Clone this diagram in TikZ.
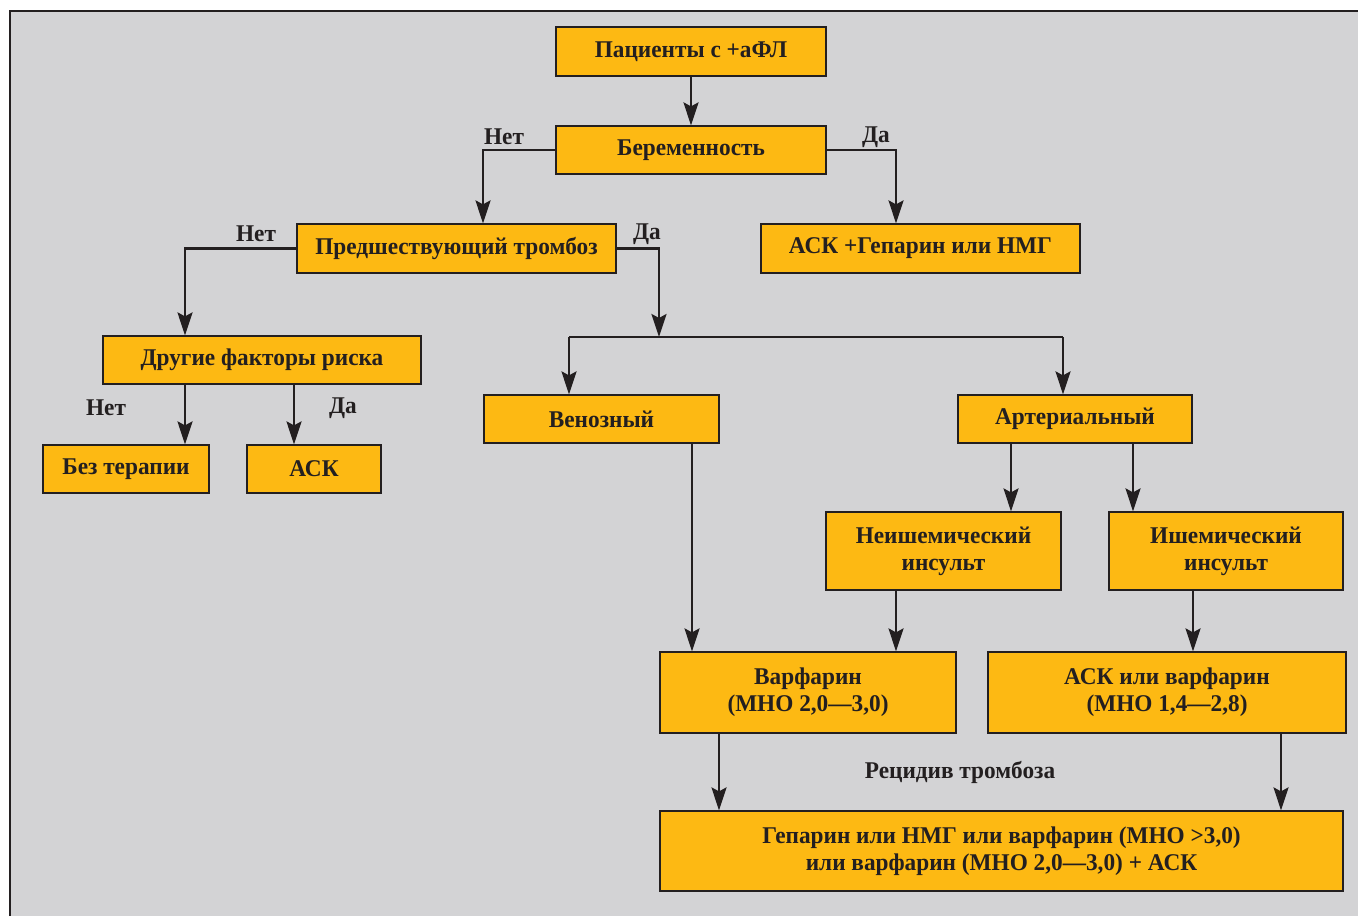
\documentclass[tikz,border=0pt]{standalone}
\usepackage{fontspec}
\setmainfont{Liberation Serif}
\newfontfamily\boxFont[FakeStretch=0.97, Ligatures=TeX]{Liberation Serif}
\usetikzlibrary{arrows.meta}
\definecolor{panelCol}{RGB}{211, 211, 213}
\definecolor{boxCol}{RGB}{253, 185, 19}
\definecolor{inkCol}{RGB}{35, 31, 32}
\tikzset{myBox/.style={draw=inkCol, line width=0.6pt, fill=boxCol, text=inkCol, align=center, inner sep=0pt, font=\boxFont\bfseries\fontsize{12}{13.5}\selectfont}}
\tikzset{myArrow/.style={draw=inkCol, line width=1.25pt, -{Stealth[length=11.5pt, width=7.5pt, inset=2pt]}}}
\tikzset{myLine/.style={draw=inkCol, line width=1.25pt}}
\tikzset{myLabel/.style={text=inkCol, inner sep=0pt, font=\boxFont\bfseries\fontsize{12}{13.5}\selectfont}}

\begin{document}
\begin{tikzpicture}[x=0.5pt, y=-0.5pt]
	\useasboundingbox (0,0) rectangle (1358,916);
	\fill[panelCol](10,11) rectangle (1358,916);
	\draw[inkCol, line width=1pt](10,916) -- (10,11) -- (1358,11);

	% boxes
	\node[myBox, minimum width=135pt, minimum height=24.5pt] (patients) at (691,51.5) {Пациенты с +аФЛ};
	\node[myBox, minimum width=135pt, minimum height=24pt] (preg) at (691,150) {Беременность};
	\node[myBox, minimum width=159.5pt, minimum height=24.5pt] (prior) at (456.5,248.5) {Предшествующий тромбоз};
	\node[myBox, minimum width=159.5pt, minimum height=24.5pt] (aspHep) at (920.5,248.5) {АСК +Гепарин или НМГ};
	\node[myBox, minimum width=159pt, minimum height=24pt] (risk) at (262,360) {Другие факторы риска};
	\node[myBox, minimum width=83pt, minimum height=24pt] (noTher) at (126,469) {Без терапии};
	\node[myBox, minimum width=67pt, minimum height=24pt] (asa) at (314,469) {АСК};
	\node[myBox, minimum width=117.5pt, minimum height=24pt] (venous) at (601.5,419) {Венозный};
	\node[myBox, minimum width=117pt, minimum height=24pt] (arterial) at (1075,419) {Артериальный};
	\node[myBox, minimum width=117.5pt, minimum height=39pt] (nonIsch) at (943.5,551) {Неишемический\\инсульт};
	\node[myBox, minimum width=117pt, minimum height=39pt] (isch) at (1226,551) {Ишемический\\инсульт};
	\node[myBox, minimum width=148pt, minimum height=40.5pt] (warf) at (808,692.5) {Варфарин\\(МНО 2,0—3,0)};
	\node[myBox, minimum width=179pt, minimum height=40.5pt] (asaWarf) at (1167,692.5) {АСК или варфарин\\(МНО 1,4—2,8)};
	\node[myBox, minimum width=341.5pt, minimum height=40pt] (hep) at (1001.5,851) {Гепарин или НМГ или варфарин (МНО >3,0)\\или варфарин (МНО 2,0—3,0) + АСК};

	% labels
	\node[myLabel] (lblNo1) at (504,137) {Нет};
	\node[myLabel] (lblYes1) at (876,137) {Да};
	\node[myLabel] (lblNo2) at (256,234) {Нет};
	\node[myLabel] (lblYes2) at (647,234) {Да};
	\node[myLabel] (lblNo3) at (106,408) {Нет};
	\node[myLabel] (lblYes3) at (343,408) {Да};
	\node[myLabel] (lblRelapse) at (960,772) {Рецидив тромбоза};

	% connectors
	\draw[myArrow](patients) -- (preg);
	\draw[myArrow](preg.west) -| ([xshift=13.25pt]prior.north);
	\draw[myArrow](preg.east) -| ([xshift=-12.25pt]aspHep.north);
	\draw[myArrow](prior.west) -| ([xshift=-38.5pt]risk.north);
	\coordinate (split) at (659,337);
	\coordinate (splitL) at (569,337);
	\coordinate (splitR) at (1063,337);
	\draw[myArrow](prior.east) -| (split);
	\draw[myLine](splitL) -- (splitR);
	\draw[myArrow](splitL) -- (splitL |- venous.north);
	\draw[myArrow](splitR) -- (splitR |- arterial.north);
	\draw[myArrow]([xshift=-38.5pt]risk.south) -- ([xshift=-38.5pt]risk.south |- noTher.north);
	\draw[myArrow]([xshift=16pt]risk.south) -- ([xshift=16pt]risk.south |- asa.north);
	\draw[myArrow]([xshift=45.25pt]venous.south) -- ([xshift=45.25pt]venous.south |- warf.north);
	\draw[myArrow]([xshift=-32pt]arterial.south) -- ([xshift=-32pt]arterial.south |- nonIsch.north);
	\draw[myArrow]([xshift=29pt]arterial.south) -- ([xshift=29pt]arterial.south |- isch.north);
	\draw[myArrow]([xshift=-23.75pt]nonIsch.south) -- ([xshift=-23.75pt]nonIsch.south |- warf.north);
	\draw[myArrow]([xshift=-16.5pt]isch.south) -- ([xshift=-16.5pt]isch.south |- asaWarf.north);
	\draw[myArrow]([xshift=-44.5pt]warf.south) -- ([xshift=-44.5pt]warf.south |- hep.north);
	\draw[myArrow]([xshift=57pt]asaWarf.south) -- ([xshift=57pt]asaWarf.south |- hep.north);
\end{tikzpicture}
\end{document}
